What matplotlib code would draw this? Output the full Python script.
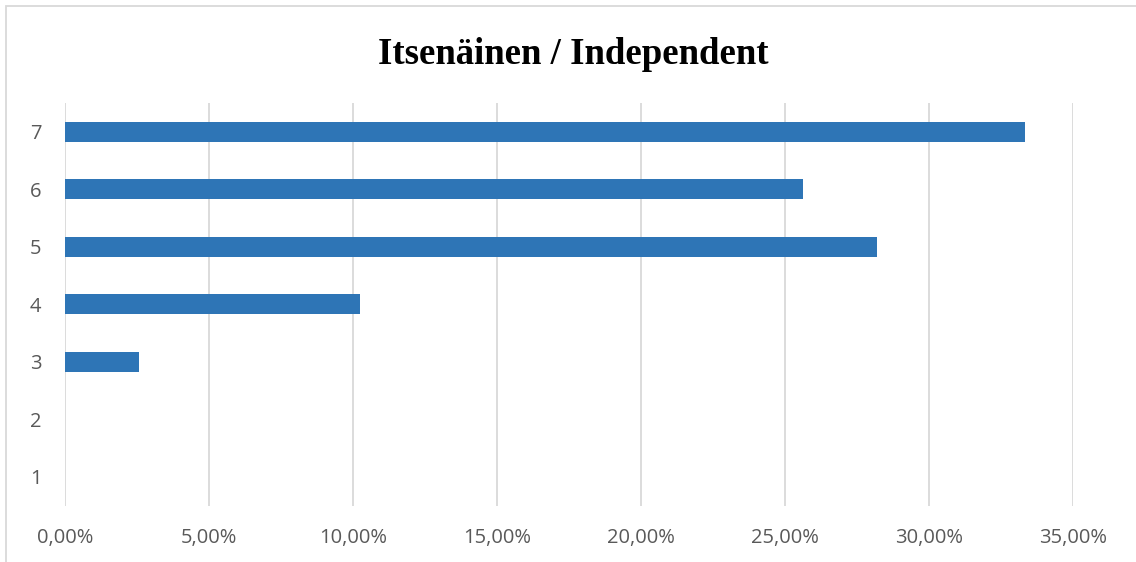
import matplotlib
matplotlib.use("Agg")
import matplotlib.pyplot as plt
from matplotlib.patches import Rectangle
from matplotlib.ticker import FuncFormatter

categories = [1, 2, 3, 4, 5, 6, 7]
values = [0.0, 0.0, 2.56, 10.26, 28.21, 25.64, 33.33]
xticks = [0, 5, 10, 15, 20, 25, 30, 35]
title = "Itsenäinen / Independent"

W, H = 1136, 562
fig = plt.figure(figsize=(W / 100, H / 100), dpi=100)
fig.patch.set_facecolor("white")

# outer chart border
fig.add_artist(Rectangle((6 / W, -0.1), 1.2, 1 - 6 / H + 0.1, transform=fig.transFigure,
                         fill=False, edgecolor="#D9D9D9", linewidth=1.3))

left, right = 65 / W, 1073 / W
top, bottom = 1 - 103 / H, 1 - 505.5 / H
ax = fig.add_axes([left, bottom, right - left, top - bottom])

ax.barh(categories, values, height=0.35, color="#2E75B6", zorder=3)
ax.set_xlim(0, 35)
ax.set_ylim(0.5, 7.5)
ax.set_xticks(xticks)
ax.set_yticks(categories)
ax.xaxis.set_major_formatter(FuncFormatter(lambda v, p: f"{v:.2f}".replace(".", ",") + "%"))
ax.grid(axis="x", color="#D9D9D9", linewidth=1.3, zorder=0)
for s in ax.spines.values():
    s.set_visible(False)
ax.tick_params(length=0, labelsize=14.5, labelcolor="#595959")
ax.tick_params(axis="x", pad=16.5)
ax.tick_params(axis="y", pad=17)
for lab in ax.get_xticklabels() + ax.get_yticklabels():
    lab.set_fontfamily("Open Sans")

fig.text(573 / W, 1 - 54 / H, title, ha="center", va="center",
         fontsize=26.5, fontweight="bold", family="Liberation Serif", color="black")

fig.savefig("out.png", dpi=100)
